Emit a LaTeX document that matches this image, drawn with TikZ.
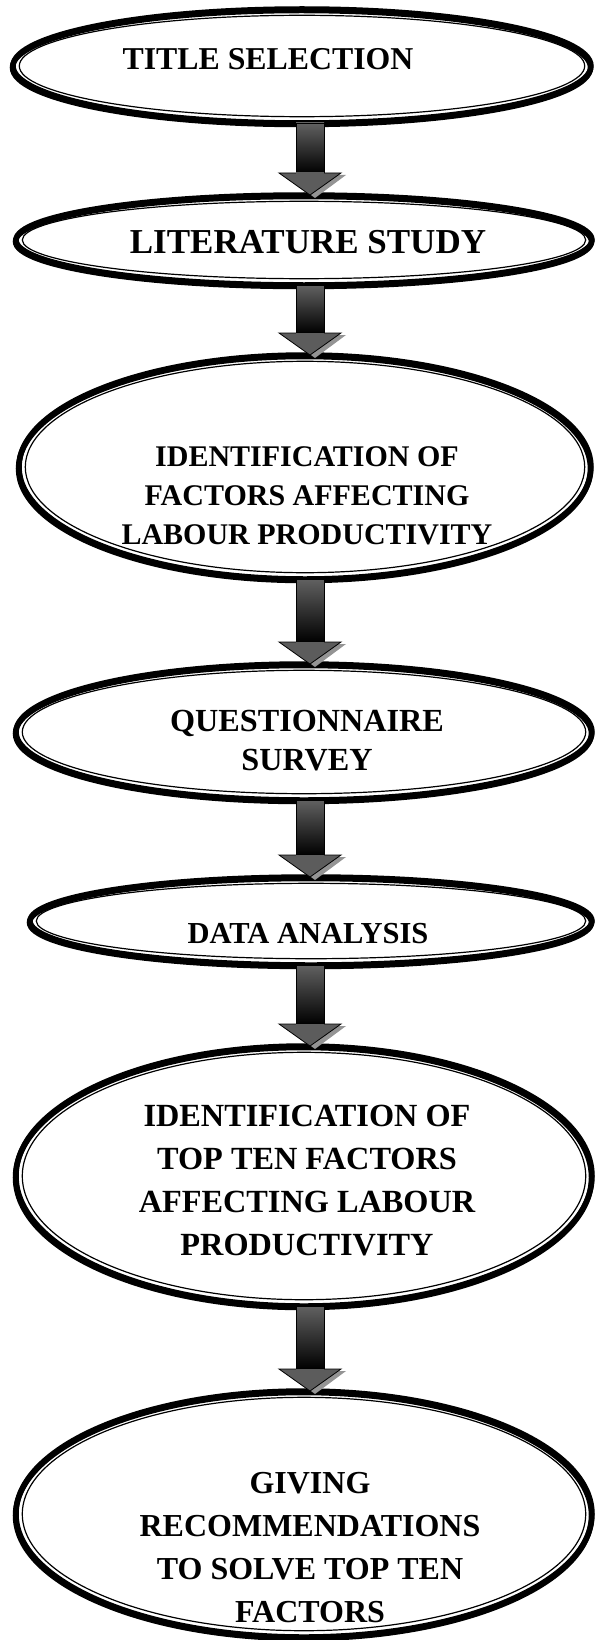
\documentclass[tikz,border=0pt]{standalone}
\usepackage{fontspec}
\setmainfont{Liberation Serif}[BoldFont={Liberation Serif Bold}]
\newfontfamily\tnrb{Liberation Serif Bold}
\usetikzlibrary{shapes.geometric,calc}
\newcommand\dellipse[5]{%
  \draw[line width=5.5pt] (#2-0.5,#3+1.5) ellipse [x radius=#4, y radius=#5];
  \node[draw=black, line width=5.5pt, ellipse, inner sep=0pt, outer sep=0pt,
        minimum width=2*#4, minimum height=2*#5] (#1) at (#2,#3) {};
  \draw[line width=1.2pt] (#1.center) ellipse [x radius=#4-6.3, y radius=#5-6.3];
}
\newcommand\fatarrow[2]{%
  \fill[black!42] ($(#2)+(-26,-20)$) -- ($(#2)+(36,-20)$) -- ($(#2)+(5,3)$) -- cycle;
  \shade[top color=black!62, bottom color=black, draw=black, line width=0.8pt]
    ($(#1)+(-14,0)$) rectangle ($(#2)+(14,-22)$);
  \filldraw[fill=black!64, draw=black, line width=0.8pt]
    ($(#2)+(-31,-22)$) -- ($(#2)+(31,-22)$) -- (#2) -- cycle;
  \fill[black!64] ($(#2)+(-13.6,-22.5)$) rectangle ($(#2)+(13.6,-21)$);
}
\tikzset{
  lbl/.style={align=center, inner sep=0pt}
}
\begin{document}
\begin{tikzpicture}[x=1pt,y=-1pt]
\fill[white] (0,0) rectangle (594,1640);
\useasboundingbox (0,0) rectangle (594,1640);
\coordinate (ax) at (310,0);

\dellipse{e1}{302}{66}{289}{57}
\dellipse{e2}{304}{240}{288}{45}
\dellipse{e3}{305}{467}{286}{112}
\dellipse{e4}{304}{732}{288}{68}
\dellipse{e5}{311}{921}{281}{44}
\dellipse{e6}{304}{1176}{288}{130}
\dellipse{e7}{304}{1514}{288}{123}

\node[lbl, font=\tnrb\fontsize{31.8}{40}\selectfont] (t1) at (268,59) {TITLE SELECTION};
\node[lbl, font=\tnrb\fontsize{35}{44}\selectfont] (t2) at (308,242) {LITERATURE STUDY};
\node[lbl, font=\tnrb\fontsize{30}{39}\selectfont] (t3) at (307,496) {IDENTIFICATION OF\\FACTORS AFFECTING\\LABOUR PRODUCTIVITY};
\node[lbl, font=\tnrb\fontsize{32.2}{39}\selectfont] (t4) at (307,741) {QUESTIONNAIRE\\SURVEY};
\node[lbl, font=\tnrb\fontsize{30.5}{39}\selectfont] (t5) at (308,934) {DATA ANALYSIS};
\node[lbl, font=\tnrb\fontsize{32.3}{43}\selectfont] (t6) at (307,1181) {IDENTIFICATION OF\\TOP TEN FACTORS\\AFFECTING LABOUR\\PRODUCTIVITY};
\node[lbl, font=\tnrb\fontsize{32}{43}\selectfont] (t7) at (310,1548) {GIVING\\RECOMMENDATIONS\\TO SOLVE TOP TEN\\FACTORS};

\fatarrow{e1.south -| ax}{e2.north -| ax}
\fatarrow{e2.south -| ax}{e3.north -| ax}
\fatarrow{e3.south -| ax}{e4.north -| ax}
\fatarrow{e4.south -| ax}{e5.north -| ax}
\fatarrow{e5.south -| ax}{e6.north -| ax}
\fatarrow{e6.south -| ax}{e7.north -| ax}
\end{tikzpicture}
\end{document}
